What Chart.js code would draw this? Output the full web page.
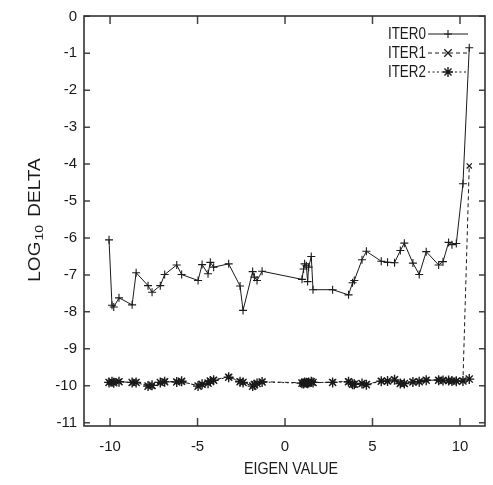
<!DOCTYPE html>
<html>
<head>
<meta charset="utf-8">
<script src="https://cdn.jsdelivr.net/npm/chart.js@4.4.1/dist/chart.umd.min.js"></script>
<style>
html,body{margin:0;padding:0;background:#fff;}
#wrap{width:493px;height:485px;position:relative;}
</style>
</head>
<body>
<div id="wrap"><canvas id="c" width="493" height="485"></canvas></div>
<script>
// ---- data ----
const eigenValues = [-10.06,-9.89,-9.79,-9.49,-8.74,-8.51,-7.83,-7.60,-7.13,-6.88,-6.19,-5.91,-4.97,-4.74,-4.40,-4.27,-4.08,-3.22,-2.57,-2.40,-1.85,-1.75,-1.60,-1.31,0.97,1.06,1.12,1.22,1.29,1.35,1.50,1.60,2.72,3.63,3.86,3.96,4.40,4.65,5.50,5.86,6.26,6.59,6.82,7.31,7.67,8.07,8.78,9.03,9.35,9.54,9.79,10.17,10.53];
const iter0 = [-6.05,-7.82,-7.87,-7.62,-7.81,-6.94,-7.29,-7.47,-7.29,-6.99,-6.73,-6.99,-7.15,-6.72,-6.97,-6.66,-6.79,-6.70,-7.30,-7.96,-6.91,-7.06,-7.15,-6.90,-7.12,-6.84,-6.70,-6.75,-7.18,-6.79,-6.50,-7.40,-7.40,-7.54,-7.21,-7.15,-6.59,-6.36,-6.63,-6.66,-6.67,-6.34,-6.14,-6.68,-6.99,-6.37,-6.73,-6.64,-6.12,-6.18,-6.15,-4.53,-0.85];
const iter1 = [-9.90,-9.90,-9.90,-9.88,-9.92,-9.90,-10.00,-10.01,-9.92,-9.88,-9.89,-9.89,-10.00,-9.97,-9.92,-9.88,-9.84,-9.76,-9.88,-9.90,-10.00,-9.98,-9.93,-9.89,-9.92,-9.95,-9.90,-9.93,-9.92,-9.90,-9.90,-9.92,-9.90,-9.88,-9.95,-9.97,-9.95,-9.96,-9.87,-9.88,-9.83,-9.93,-9.95,-9.89,-9.88,-9.84,-9.84,-9.85,-9.87,-9.88,-9.87,-9.86,-4.05];
const iter2 = [-9.91,-9.89,-9.92,-9.89,-9.91,-9.91,-10.01,-9.99,-9.91,-9.89,-9.90,-9.88,-10.01,-9.96,-9.93,-9.87,-9.85,-9.77,-9.89,-9.91,-10.01,-9.97,-9.94,-9.90,-9.93,-9.94,-9.91,-9.92,-9.93,-9.91,-9.89,-9.91,-9.91,-9.89,-9.96,-9.96,-9.94,-9.97,-9.88,-9.87,-9.84,-9.94,-9.94,-9.90,-9.89,-9.85,-9.85,-9.86,-9.86,-9.87,-9.88,-9.87,-9.82];
const seriesNames = ['ITER0','ITER1','ITER2'];
const xTickValues = [-10,-5,0,5,10];
const yTickValues = [0,-1,-2,-3,-4,-5,-6,-7,-8,-9,-10,-11];
const xTitle = 'EIGEN VALUE';

const INK = '#1a1a1a';
const FONT = "'Liberation Sans', Arial, sans-serif";

function pts(ys){ return eigenValues.map((x,i)=>({x:x,y:ys[i]})); }

const styles = [
  {dash:[], point:'cross', r:4, w:1.1},
  {dash:[4,3], point:'crossRot', r:3.7, w:1.3},
  {dash:[2,2.5], point:'star', r:5, w:1.4}
];

function drawMarker(ctx, style, x, y, r){
  ctx.beginPath();
  if(style==='cross'||style==='star'){
    ctx.moveTo(x-r,y);ctx.lineTo(x+r,y);ctx.moveTo(x,y-r);ctx.lineTo(x,y+r);
  }
  if(style==='crossRot'||style==='star'){
    const d = style==='star'? r*0.707 : r;
    ctx.moveTo(x-d,y-d);ctx.lineTo(x+d,y+d);ctx.moveTo(x-d,y+d);ctx.lineTo(x+d,y-d);
  }
  ctx.stroke();
}

// draws text squeezed horizontally (narrow look of the original)
function narrowText(ctx, txt, x, y, size, sx, align){
  ctx.save();
  ctx.font = size+'px '+FONT;
  ctx.translate(x,y); ctx.scale(sx,1);
  ctx.textAlign = align; ctx.textBaseline='middle';
  ctx.fillText(txt,0,0);
  ctx.restore();
}

const framePlugin = {
  id:'frame',
  afterDraw(chart){
    const ctx = chart.ctx, a = chart.chartArea;
    const xs = chart.scales.x, ys = chart.scales.y;
    ctx.save();
    // ticks (inward, mirrored)
    ctx.strokeStyle = '#444'; ctx.lineWidth = 1.5; ctx.setLineDash([]);
    ctx.beginPath();
    xTickValues.forEach(v=>{
      const px = xs.getPixelForValue(v);
      ctx.moveTo(px,a.bottom);ctx.lineTo(px,a.bottom-8);
      ctx.moveTo(px,a.top);ctx.lineTo(px,a.top+8);
    });
    yTickValues.forEach(v=>{
      const py = ys.getPixelForValue(v);
      ctx.moveTo(a.left,py);ctx.lineTo(a.left+6,py);
      ctx.moveTo(a.right,py);ctx.lineTo(a.right-6,py);
    });
    ctx.stroke();
    // frame
    ctx.strokeStyle = '#333'; ctx.lineWidth = 1.6;
    ctx.strokeRect(a.left,a.top,a.right-a.left,a.bottom-a.top);
    // legend
    ctx.fillStyle = INK;
    const rowsY = [34,53,72];
    seriesNames.forEach((n,i)=>{
      const y = rowsY[i];
      narrowText(ctx, n, 426, y+0.5, 16, 0.84, 'right');
      ctx.strokeStyle = INK; ctx.lineWidth = 1;
      ctx.setLineDash(styles[i].dash);
      ctx.beginPath(); ctx.moveTo(428,y); ctx.lineTo(468,y); ctx.stroke();
      ctx.setLineDash([]);
      ctx.lineWidth = styles[i].w;
      drawMarker(ctx, styles[i].point, 448, y, styles[i].r);
    });
    // x title
    narrowText(ctx, xTitle, 291, 469, 17, 0.84, 'center');
    // y title with subscript (squeezed across the text direction)
    ctx.translate(36,220); ctx.rotate(-Math.PI/2); ctx.scale(1,0.82);
    ctx.textAlign='left'; ctx.textBaseline='middle';
    const f1='19px '+FONT, f2='14px '+FONT;
    ctx.font=f1; const w1=ctx.measureText('LOG').width;
    ctx.font=f2; const w2=ctx.measureText('10').width;
    ctx.font=f1; const w3=ctx.measureText(' DELTA').width;
    let x0 = -(w1+w2+w3+4)/2;
    ctx.font=f1; ctx.fillText('LOG',x0,0); x0+=w1+1;
    ctx.font=f2; ctx.fillText('10',x0,5); x0+=w2+3;
    ctx.font=f1; ctx.fillText(' DELTA',x0,0);
    ctx.restore();
  }
};

new Chart(document.getElementById('c'),{
  type:'line',
  data:{datasets:[iter0,iter1,iter2].map((ys,i)=>({
    label:seriesNames[i], data:pts(ys),
    borderColor:INK, backgroundColor:INK, borderWidth:1,
    borderDash:styles[i].dash, pointStyle:styles[i].point,
    pointRadius:styles[i].r, pointBorderWidth:styles[i].w, pointBorderColor:INK,
    tension:0, fill:false
  }))},
  options:{
    responsive:false, animation:false, events:[],
    layout:{padding:{left:0,right:8,top:14,bottom:0}},
    plugins:{legend:{display:false},tooltip:{enabled:false},title:{display:false}},
    scales:{
      x:{type:'linear',min:-11.49,max:11.43,
        grid:{display:false,drawTicks:false},border:{display:false},
        afterBuildTicks(s){s.ticks=xTickValues.map(v=>({value:v}));},
        afterFit(s){s.height=59;},
        ticks:{font:{size:15,family:FONT},color:INK,padding:12,maxRotation:0}},
      y:{type:'linear',min:-11.09,max:0.01,
        grid:{display:false,drawTicks:false},border:{display:false},
        afterBuildTicks(s){s.ticks=yTickValues.map(v=>({value:v}));},
        afterFit(s){s.width=84;},
        ticks:{font:{size:15,family:FONT},color:INK,padding:7}}
    }
  },
  plugins:[framePlugin]
});
</script>
</body>
</html>
